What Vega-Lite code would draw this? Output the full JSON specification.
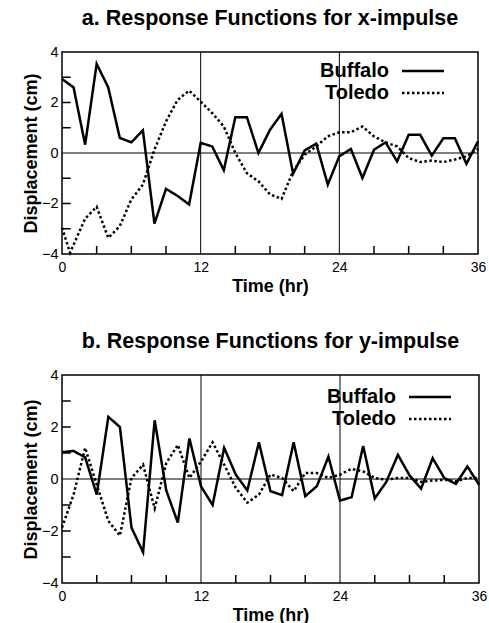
{
  "$schema": "https://vega.github.io/schema/vega-lite/v6.json",
  "padding": {"left": 21, "top": 6, "right": 5, "bottom": 0},
  "spacing": 33,
  "config": {
    "font": "Liberation Sans",
    "view": {"stroke": "black", "strokeWidth": 1.5},
    "axis": {"domain": false, "grid": false, "ticks": false, "labelColor": "black", "titleColor": "black", "labelFont": "Liberation Sans", "titleFont": "Liberation Sans", "titleFontSize": 18, "titleFontWeight": "bold", "labelFlush": false},
    "axisX": {"labelPadding": 6, "labelFontSize": 14, "titlePadding": 3},
    "axisY": {"labelPadding": 4, "labelFontSize": 14.5, "titlePadding": 1},
    "title": {"font": "Liberation Sans", "fontSize": 21.5, "fontWeight": "bold", "color": "black", "anchor": "middle", "offset": 15}
  },
  "datasets": {
    "xres": [
      {"t":0,"s":"Buffalo","v":2.93},{"t":1,"s":"Buffalo","v":2.6},{"t":2,"s":"Buffalo","v":0.33},{"t":3,"s":"Buffalo","v":3.53},{"t":4,"s":"Buffalo","v":2.6},{"t":5,"s":"Buffalo","v":0.6},{"t":6,"s":"Buffalo","v":0.42},{"t":7,"s":"Buffalo","v":0.9},{"t":8,"s":"Buffalo","v":-2.8},{"t":9,"s":"Buffalo","v":-1.42},{"t":10,"s":"Buffalo","v":-1.7},{"t":11,"s":"Buffalo","v":-2.04},{"t":12,"s":"Buffalo","v":0.4},{"t":13,"s":"Buffalo","v":0.26},{"t":14,"s":"Buffalo","v":-0.68},{"t":15,"s":"Buffalo","v":1.42},{"t":16,"s":"Buffalo","v":1.42},{"t":17,"s":"Buffalo","v":0.0},{"t":18,"s":"Buffalo","v":0.92},{"t":19,"s":"Buffalo","v":1.55},{"t":20,"s":"Buffalo","v":-0.82},{"t":21,"s":"Buffalo","v":0.1},{"t":22,"s":"Buffalo","v":0.37},{"t":23,"s":"Buffalo","v":-1.25},{"t":24,"s":"Buffalo","v":-0.13},{"t":25,"s":"Buffalo","v":0.16},{"t":26,"s":"Buffalo","v":-0.99},{"t":27,"s":"Buffalo","v":0.13},{"t":28,"s":"Buffalo","v":0.42},{"t":29,"s":"Buffalo","v":-0.33},{"t":30,"s":"Buffalo","v":0.72},{"t":31,"s":"Buffalo","v":0.72},{"t":32,"s":"Buffalo","v":-0.1},{"t":33,"s":"Buffalo","v":0.58},{"t":34,"s":"Buffalo","v":0.58},{"t":35,"s":"Buffalo","v":-0.43},{"t":36,"s":"Buffalo","v":0.46},
      {"t":0,"s":"Toledo","v":-2.96},{"t":0.7,"s":"Toledo","v":-3.95},{"t":2,"s":"Toledo","v":-2.6},{"t":3,"s":"Toledo","v":-2.13},{"t":4,"s":"Toledo","v":-3.36},{"t":5,"s":"Toledo","v":-2.9},{"t":6,"s":"Toledo","v":-1.84},{"t":7,"s":"Toledo","v":-1.25},{"t":8,"s":"Toledo","v":0.13},{"t":9,"s":"Toledo","v":1.25},{"t":10,"s":"Toledo","v":2.1},{"t":11,"s":"Toledo","v":2.47},{"t":12,"s":"Toledo","v":2.04},{"t":13,"s":"Toledo","v":1.58},{"t":14,"s":"Toledo","v":1.05},{"t":15,"s":"Toledo","v":0.0},{"t":16,"s":"Toledo","v":-0.8},{"t":17,"s":"Toledo","v":-1.12},{"t":18,"s":"Toledo","v":-1.64},{"t":19,"s":"Toledo","v":-1.82},{"t":20,"s":"Toledo","v":-0.72},{"t":21,"s":"Toledo","v":-0.07},{"t":22,"s":"Toledo","v":0.26},{"t":23,"s":"Toledo","v":0.66},{"t":24,"s":"Toledo","v":0.82},{"t":25,"s":"Toledo","v":0.82},{"t":26,"s":"Toledo","v":1.05},{"t":27,"s":"Toledo","v":0.66},{"t":28,"s":"Toledo","v":0.42},{"t":29,"s":"Toledo","v":0.26},{"t":30,"s":"Toledo","v":-0.2},{"t":31,"s":"Toledo","v":-0.36},{"t":32,"s":"Toledo","v":-0.3},{"t":33,"s":"Toledo","v":-0.36},{"t":34,"s":"Toledo","v":-0.26},{"t":35,"s":"Toledo","v":-0.13},{"t":36,"s":"Toledo","v":0.16}
    ],
    "yres": [
      {"t":0,"s":"Buffalo","v":1.03},{"t":1,"s":"Buffalo","v":1.08},{"t":2,"s":"Buffalo","v":0.83},{"t":3,"s":"Buffalo","v":-0.6},{"t":4,"s":"Buffalo","v":2.39},{"t":5,"s":"Buffalo","v":2.0},{"t":6,"s":"Buffalo","v":-1.87},{"t":7,"s":"Buffalo","v":-2.82},{"t":8,"s":"Buffalo","v":2.26},{"t":9,"s":"Buffalo","v":-0.44},{"t":10,"s":"Buffalo","v":-1.68},{"t":11,"s":"Buffalo","v":1.56},{"t":12,"s":"Buffalo","v":-0.28},{"t":13,"s":"Buffalo","v":-1.0},{"t":14,"s":"Buffalo","v":1.2},{"t":15,"s":"Buffalo","v":0.17},{"t":16,"s":"Buffalo","v":-0.44},{"t":17,"s":"Buffalo","v":1.41},{"t":18,"s":"Buffalo","v":-0.47},{"t":19,"s":"Buffalo","v":-0.62},{"t":20,"s":"Buffalo","v":1.41},{"t":21,"s":"Buffalo","v":-0.66},{"t":22,"s":"Buffalo","v":-0.28},{"t":23,"s":"Buffalo","v":0.86},{"t":24,"s":"Buffalo","v":-0.83},{"t":25,"s":"Buffalo","v":-0.7},{"t":26,"s":"Buffalo","v":1.27},{"t":27,"s":"Buffalo","v":-0.75},{"t":28,"s":"Buffalo","v":-0.11},{"t":29,"s":"Buffalo","v":0.93},{"t":30,"s":"Buffalo","v":0.14},{"t":31,"s":"Buffalo","v":-0.37},{"t":32,"s":"Buffalo","v":0.8},{"t":33,"s":"Buffalo","v":0.04},{"t":34,"s":"Buffalo","v":-0.19},{"t":35,"s":"Buffalo","v":0.48},{"t":36,"s":"Buffalo","v":-0.22},
      {"t":0,"s":"Toledo","v":-1.87},{"t":1,"s":"Toledo","v":-0.6},{"t":2,"s":"Toledo","v":1.2},{"t":3,"s":"Toledo","v":-0.22},{"t":4,"s":"Toledo","v":-1.61},{"t":5,"s":"Toledo","v":-2.18},{"t":6,"s":"Toledo","v":0.04},{"t":7,"s":"Toledo","v":0.55},{"t":8,"s":"Toledo","v":-1.13},{"t":9,"s":"Toledo","v":0.61},{"t":10,"s":"Toledo","v":1.31},{"t":11,"s":"Toledo","v":0.04},{"t":12,"s":"Toledo","v":0.67},{"t":13,"s":"Toledo","v":1.41},{"t":14,"s":"Toledo","v":0.55},{"t":15,"s":"Toledo","v":-0.34},{"t":16,"s":"Toledo","v":-0.91},{"t":17,"s":"Toledo","v":-0.6},{"t":18,"s":"Toledo","v":0.17},{"t":19,"s":"Toledo","v":0.04},{"t":20,"s":"Toledo","v":-0.47},{"t":21,"s":"Toledo","v":0.23},{"t":22,"s":"Toledo","v":0.23},{"t":23,"s":"Toledo","v":0.04},{"t":24,"s":"Toledo","v":0.17},{"t":25,"s":"Toledo","v":0.39},{"t":26,"s":"Toledo","v":0.29},{"t":27,"s":"Toledo","v":0.04},{"t":28,"s":"Toledo","v":-0.03},{"t":29,"s":"Toledo","v":0.04},{"t":30,"s":"Toledo","v":0.04},{"t":31,"s":"Toledo","v":-0.11},{"t":32,"s":"Toledo","v":-0.06},{"t":33,"s":"Toledo","v":-0.03},{"t":34,"s":"Toledo","v":-0.09},{"t":35,"s":"Toledo","v":0.04},{"t":36,"s":"Toledo","v":0.04}
    ],
    "xticks": [{"t":3},{"t":6},{"t":9},{"t":15},{"t":18},{"t":21},{"t":27},{"t":30},{"t":33}],
    "yticks": [{"v":-3},{"v":-2},{"v":-1},{"v":1},{"v":2},{"v":3}]
  },
  "vconcat": [
    {
      "title": {"text": "a. Response Functions for x-impulse"},
      "width": 416,
      "height": 202,
      "layer": [
        {
          "data": {"values": [{"t": 12}, {"t": 24}]},
          "mark": {"type": "rule", "color": "black", "strokeWidth": 1},
          "encoding": {
            "x": {"field": "t", "type": "quantitative", "scale": {"domain": [0, 36], "nice": false},
              "axis": {"title": "Time (hr)", "values": [0,12,24,36]}}
          }
        },
        {
          "data": {"values": [{"v": 0}]},
          "mark": {"type": "rule", "color": "black", "strokeWidth": 1},
          "encoding": {
            "y": {"field": "v", "type": "quantitative", "scale": {"domain": [-4, 4], "nice": false},
              "axis": {"title": "Displacement (cm)", "values": [-4,-2,0,2,4]}}
          }
        },
        {
          "data": {"name": "xticks"},
          "mark": {"type": "rule", "color": "black", "strokeWidth": 1.5},
          "encoding": {
            "x": {"field": "t", "type": "quantitative", "axis": {"title": "Time (hr)", "values": [0,12,24,36]}},
            "y": {"datum": -4, "type": "quantitative", "axis": {"title": "Displacement (cm)", "values": [-4,-2,0,2,4]}},
            "y2": {"datum": -3.68}
          }
        },
        {
          "data": {"name": "yticks"},
          "mark": {"type": "rule", "color": "black", "strokeWidth": 1.5},
          "encoding": {
            "y": {"field": "v", "type": "quantitative", "axis": {"title": "Displacement (cm)", "values": [-4,-2,0,2,4]}},
            "x": {"datum": 0, "type": "quantitative", "axis": {"title": "Time (hr)", "values": [0,12,24,36]}},
            "x2": {"datum": 0.75}
          }
        },
        {
          "data": {"name": "xres"},
          "mark": {"type": "line", "color": "black", "strokeWidth": 2.5},
          "encoding": {
            "x": {"field": "t", "type": "quantitative", "axis": {"title": "Time (hr)", "values": [0,12,24,36]}},
            "y": {"field": "v", "type": "quantitative", "axis": {"title": "Displacement (cm)", "values": [-4,-2,0,2,4]}},
            "strokeDash": {"field": "s", "type": "nominal", "scale": {"domain": ["Buffalo", "Toledo"], "range": [[1, 0], [2.5, 2.5]]},
              "legend": {"title": null, "orient": "none", "legendX": 349, "legendY": 7, "symbolType": "M-2,0L2,0", "symbolSize": 441, "symbolStrokeWidth": 2.5, "symbolStrokeColor": "black", "symbolFillColor": "transparent", "labelFontSize": 20, "labelFontWeight": "bold", "labelColor": "black", "labelAlign": "right", "labelOffset": -46, "rowPadding": 0, "padding": 0}}
          }
        }
      ]
    },
    {
      "title": {"text": "b. Response Functions for y-impulse"},
      "width": 417,
      "height": 208,
      "layer": [
        {
          "data": {"values": [{"t": 12}, {"t": 24}]},
          "mark": {"type": "rule", "color": "black", "strokeWidth": 1},
          "encoding": {
            "x": {"field": "t", "type": "quantitative", "scale": {"domain": [0, 36], "nice": false},
              "axis": {"title": "Time (hr)", "values": [0,12,24,36]}}
          }
        },
        {
          "data": {"values": [{"v": 0}]},
          "mark": {"type": "rule", "color": "black", "strokeWidth": 1},
          "encoding": {
            "y": {"field": "v", "type": "quantitative", "scale": {"domain": [-4, 4], "nice": false},
              "axis": {"title": "Displacement (cm)", "values": [-4,-2,0,2,4]}}
          }
        },
        {
          "data": {"name": "xticks"},
          "mark": {"type": "rule", "color": "black", "strokeWidth": 1.5},
          "encoding": {
            "x": {"field": "t", "type": "quantitative", "axis": {"title": "Time (hr)", "values": [0,12,24,36]}},
            "y": {"datum": -4, "type": "quantitative", "axis": {"title": "Displacement (cm)", "values": [-4,-2,0,2,4]}},
            "y2": {"datum": -3.69}
          }
        },
        {
          "data": {"name": "yticks"},
          "mark": {"type": "rule", "color": "black", "strokeWidth": 1.5},
          "encoding": {
            "y": {"field": "v", "type": "quantitative", "axis": {"title": "Displacement (cm)", "values": [-4,-2,0,2,4]}},
            "x": {"datum": 0, "type": "quantitative", "axis": {"title": "Time (hr)", "values": [0,12,24,36]}},
            "x2": {"datum": 0.75}
          }
        },
        {
          "data": {"name": "yres"},
          "mark": {"type": "line", "color": "black", "strokeWidth": 2.5},
          "encoding": {
            "x": {"field": "t", "type": "quantitative", "axis": {"title": "Time (hr)", "values": [0,12,24,36]}},
            "y": {"field": "v", "type": "quantitative", "axis": {"title": "Displacement (cm)", "values": [-4,-2,0,2,4]}},
            "strokeDash": {"field": "s", "type": "nominal", "scale": {"domain": ["Buffalo", "Toledo"], "range": [[1, 0], [2.5, 2.5]]},
              "legend": {"title": null, "orient": "none", "legendX": 356, "legendY": 10, "symbolType": "M-2,0L2,0", "symbolSize": 441, "symbolStrokeWidth": 2.5, "symbolStrokeColor": "black", "symbolFillColor": "transparent", "labelFontSize": 20, "labelFontWeight": "bold", "labelColor": "black", "labelAlign": "right", "labelOffset": -46, "rowPadding": -2, "padding": 0}}
          }
        }
      ]
    }
  ],
  "resolve": {"legend": {"strokeDash": "independent"}}
}
